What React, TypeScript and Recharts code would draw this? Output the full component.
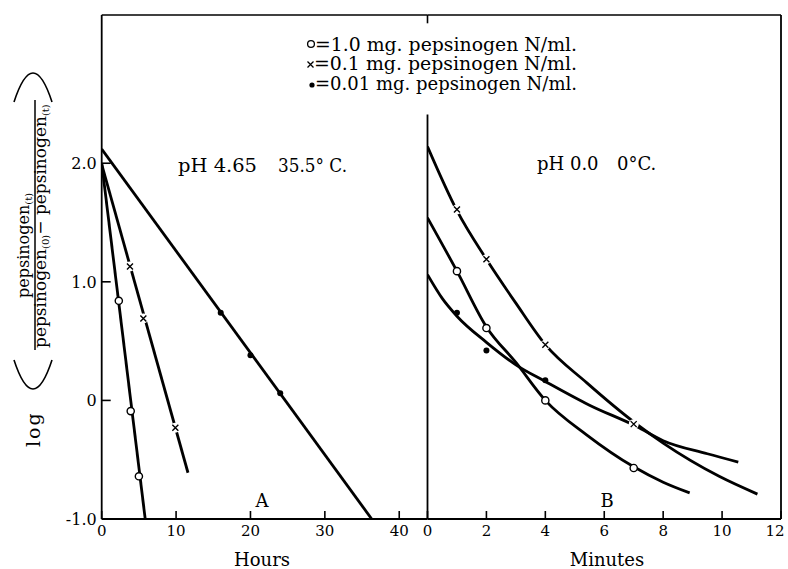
import React from 'react';
import { ComposedChart, Line, Scatter, XAxis, YAxis, ReferenceLine, Customized } from 'recharts';

const FONT = '"DejaVu Serif", "Liberation Serif", serif';

// axis ticks
const hourTicks = [0, 10, 20, 30, 40];
const minuteTicks = [0, 2, 4, 6, 8, 10, 12];
const logTicks = [-1, 0, 1, 2];

// Panel A - pH 4.65, 35.5 C, time in hours
const circlesA = [
  { t: 2.3, v: 0.84 },
  { t: 3.9, v: -0.09 },
  { t: 5.0, v: -0.64 },
];
const crossesA = [
  { t: 3.8, v: 1.13 },
  { t: 5.6, v: 0.69 },
  { t: 9.9, v: -0.23 },
];
const dotsA = [
  { t: 16, v: 0.74 },
  { t: 20, v: 0.38 },
  { t: 24, v: 0.06 },
];
// fitted straight lines, end points
const circleLineA = [{ t: 0, v: 2.0 }, { t: 5.85, v: -1.0 }];
const crossLineA = [{ t: 0, v: 1.99 }, { t: 11.6, v: -0.61 }];
const dotLineA = [{ t: 0, v: 2.12 }, { t: 36.3, v: -1.0 }];

// Panel B - pH 0.0, 0 C, time in minutes
const circlesB = [
  { t: 1, v: 1.09 },
  { t: 2, v: 0.61 },
  { t: 4, v: 0.0 },
  { t: 7, v: -0.57 },
];
const crossesB = [
  { t: 1, v: 1.61 },
  { t: 2, v: 1.19 },
  { t: 4, v: 0.47 },
  { t: 7, v: -0.2 },
];
const dotsB = [
  { t: 1, v: 0.74 },
  { t: 2, v: 0.42 },
  { t: 4, v: 0.17 },
];
// hand drawn curves, read at several points
const circleCurveB = [
  { t: 0, v: 1.54 }, { t: 1, v: 1.09 }, { t: 2, v: 0.62 }, { t: 3, v: 0.32 },
  { t: 4, v: 0.0 }, { t: 5.4, v: -0.29 }, { t: 7, v: -0.56 }, { t: 8, v: -0.69 }, { t: 8.9, v: -0.78 },
];
const crossCurveB = [
  { t: 0, v: 2.14 }, { t: 1, v: 1.6 }, { t: 2, v: 1.19 }, { t: 3, v: 0.82 },
  { t: 4, v: 0.47 }, { t: 5.4, v: 0.15 }, { t: 7.1, v: -0.2 }, { t: 8, v: -0.36 },
  { t: 9.9, v: -0.64 }, { t: 11.2, v: -0.79 },
];
const dotCurveB = [
  { t: 0, v: 1.06 }, { t: 0.5, v: 0.86 }, { t: 1, v: 0.71 }, { t: 2, v: 0.49 },
  { t: 3, v: 0.3 }, { t: 4, v: 0.16 }, { t: 5.5, v: -0.04 }, { t: 7.1, v: -0.22 },
  { t: 8, v: -0.34 }, { t: 9.5, v: -0.45 }, { t: 10.55, v: -0.52 },
];

const legendRows = [
  '=1.0 mg. pepsinogen N/ml.',
  '=0.1 mg. pepsinogen N/ml.',
  '=0.01 mg. pepsinogen N/ml.',
];

const axisStyle = { stroke: '#000', strokeWidth: 1.8 };
const tickStyle = { stroke: '#000', strokeWidth: 1.6 };
const fmtLog = (v: number) => (v === 0 ? '0' : v.toFixed(1));

// x tick labels; the last minute label is nudged so it stays on the page
const TimeTick = (p: any) => {
  const v = p.payload.value;
  const shift = v === 12 ? -6 : 0;
  return (
    <text x={p.x + shift} y={p.y} dy="0.71em" textAnchor="middle" fontSize={15} fontFamily={FONT} fill="#000">
      {v}
    </text>
  );
};

const OpenCircle = (p: any) => (
  <circle cx={p.cx} cy={p.cy} r={3.6} fill="#fff" stroke="#000" strokeWidth={1.4} />
);
const Cross = (p: any) => (
  <g>
    <circle cx={p.cx} cy={p.cy} r={5} fill="#fff" />
    <path
      d={`M${p.cx - 3},${p.cy - 3}L${p.cx + 3},${p.cy + 3}M${p.cx - 3},${p.cy + 3}L${p.cx + 3},${p.cy - 3}`}
      stroke="#000"
      strokeWidth={1.4}
    />
  </g>
);
const Dot = (p: any) => <circle cx={p.cx} cy={p.cy} r={3} fill="#000" />;

const AnnotationsA = () => (
  <g fontFamily={FONT} fill="#000">
    {/* y axis title, rotated */}
    <g transform="rotate(-90)">
      <text x={-447} y={40} fontSize={19} letterSpacing={2}>log</text>
      <path d="M -360 14 Q -418 33 -360 52" fill="none" stroke="#000" strokeWidth={1.6} />
      <text x={-298} y={29} fontSize={16}>
        pepsinogen<tspan fontSize={10} dy={3}>(t)</tspan>
      </text>
      <line x1={-350} x2={-100} y1={35} y2={35} stroke="#000" strokeWidth={1.5} />
      <text x={-348} y={46} fontSize={17}>
        pepsinogen<tspan fontSize={10} dy={3}>(0)</tspan>
        <tspan fontSize={17} dy={-3}>{'\u2212 pepsinogen'}</tspan>
        <tspan fontSize={10} dy={3}>(t)</tspan>
      </text>
      <path d="M -102 14 Q -44 33 -102 52" fill="none" stroke="#000" strokeWidth={1.6} />
    </g>

    {/* legend */}
    <circle cx={311} cy={44} r={3.4} fill="#fff" stroke="#000" strokeWidth={1.3} />
    <path d="M307.5,61.5L313.5,67.5M307.5,67.5L313.5,61.5" stroke="#000" strokeWidth={1.3} />
    <circle cx={312} cy={85} r={2.6} fill="#000" />
    <text x={315} y={51} fontSize={18} textLength={262} lengthAdjust="spacingAndGlyphs">{legendRows[0]}</text>
    <text x={314} y={70} fontSize={18} textLength={263} lengthAdjust="spacingAndGlyphs">{legendRows[1]}</text>
    <text x={315} y={90} fontSize={18} textLength={262} lengthAdjust="spacingAndGlyphs">{legendRows[2]}</text>

    <text x={178} y={172} fontSize={18} textLength={79} lengthAdjust="spacingAndGlyphs">pH 4.65</text>
    <text x={278} y={172} fontSize={18} textLength={69} lengthAdjust="spacingAndGlyphs">35.5° C.</text>
    <text x={262} y={507} fontSize={18} textAnchor="middle">A</text>
    <text x={262} y={566} fontSize={18} textAnchor="middle">Hours</text>
  </g>
);

const AnnotationsB = () => (
  <g fontFamily={FONT} fill="#000">
    <text x={537} y={170} fontSize={18}>pH 0.0</text>
    <text x={617} y={170} fontSize={18}>0°C.</text>
    <text x={607} y={507} fontSize={18} textAnchor="middle">B</text>
    <text x={607} y={566} fontSize={18} textAnchor="middle">Minutes</text>
  </g>
);

const lineProps = {
  dataKey: 'v',
  stroke: '#000',
  strokeWidth: 2.8,
  dot: false,
  activeDot: false,
  isAnimationActive: false,
  legendType: 'none' as const,
};

export default function App() {
  return (
    <div style={{ position: 'absolute', left: 0, top: 0, width: 788, height: 569, background: '#fff', fontFamily: FONT }}>
      <div style={{ position: 'absolute', left: 0, top: 0 }}>
        <ComposedChart width={788} height={569} margin={{ top: 15, right: 360.5, bottom: 20, left: 41.7 }}>
          <XAxis
            dataKey="t"
            type="number"
            domain={[0, 43.8]}
            ticks={hourTicks}
            interval={0}
            allowDataOverflow
            height={30}
            tickSize={-8}
            tickMargin={14}
            axisLine={axisStyle}
            tickLine={tickStyle}
            tick={TimeTick}
          />
          <YAxis
            dataKey="v"
            type="number"
            domain={[-1, 3.25]}
            ticks={logTicks}
            interval={0}
            allowDataOverflow
            width={60}
            tickSize={-9}
            tickMargin={14}
            tickFormatter={fmtLog}
            axisLine={axisStyle}
            tickLine={tickStyle}
            tick={{ fill: '#000', fontSize: 16, fontFamily: FONT }}
          />
          <ReferenceLine y={3.25} stroke="#000" strokeWidth={1.6} />
          <Line {...lineProps} data={circleLineA} type="linear" />
          <Line {...lineProps} data={crossLineA} type="linear" />
          <Line {...lineProps} data={dotLineA} type="linear" />
          <Scatter data={circlesA} shape={OpenCircle} isAnimationActive={false} />
          <Scatter data={crossesA} shape={Cross} isAnimationActive={false} />
          <Scatter data={dotsA} shape={Dot} isAnimationActive={false} />
          <Customized component={AnnotationsA} />
        </ComposedChart>
      </div>
      <div style={{ position: 'absolute', left: 0, top: 0 }}>
        <ComposedChart width={788} height={569} margin={{ top: 15, right: 7, bottom: 20, left: 427.5 }}>
          <XAxis
            dataKey="t"
            type="number"
            domain={[0, 12]}
            ticks={minuteTicks}
            interval={0}
            allowDataOverflow
            height={30}
            tickSize={-8}
            tickMargin={14}
            axisLine={axisStyle}
            tickLine={tickStyle}
            tick={TimeTick}
          />
          <YAxis dataKey="v" type="number" domain={[-1, 3.25]} allowDataOverflow hide width={0} />
          <ReferenceLine y={3.25} stroke="#000" strokeWidth={1.6} />
          <ReferenceLine x={12} stroke="#000" strokeWidth={1.8} />
          <ReferenceLine segment={[{ x: 0, y: -1 }, { x: 0, y: 2.41 }]} stroke="#000" strokeWidth={1.8} />
          <ReferenceLine segment={[{ x: 0, y: 3.25 }, { x: 0, y: 3.18 }]} stroke="#000" strokeWidth={1.6} />
          <Line {...lineProps} data={circleCurveB} type="monotone" />
          <Line {...lineProps} data={crossCurveB} type="monotone" />
          <Line {...lineProps} data={dotCurveB} type="monotone" />
          <Scatter data={circlesB} shape={OpenCircle} isAnimationActive={false} />
          <Scatter data={crossesB} shape={Cross} isAnimationActive={false} />
          <Scatter data={dotsB} shape={Dot} isAnimationActive={false} />
          <Customized component={AnnotationsB} />
        </ComposedChart>
      </div>
    </div>
  );
}
